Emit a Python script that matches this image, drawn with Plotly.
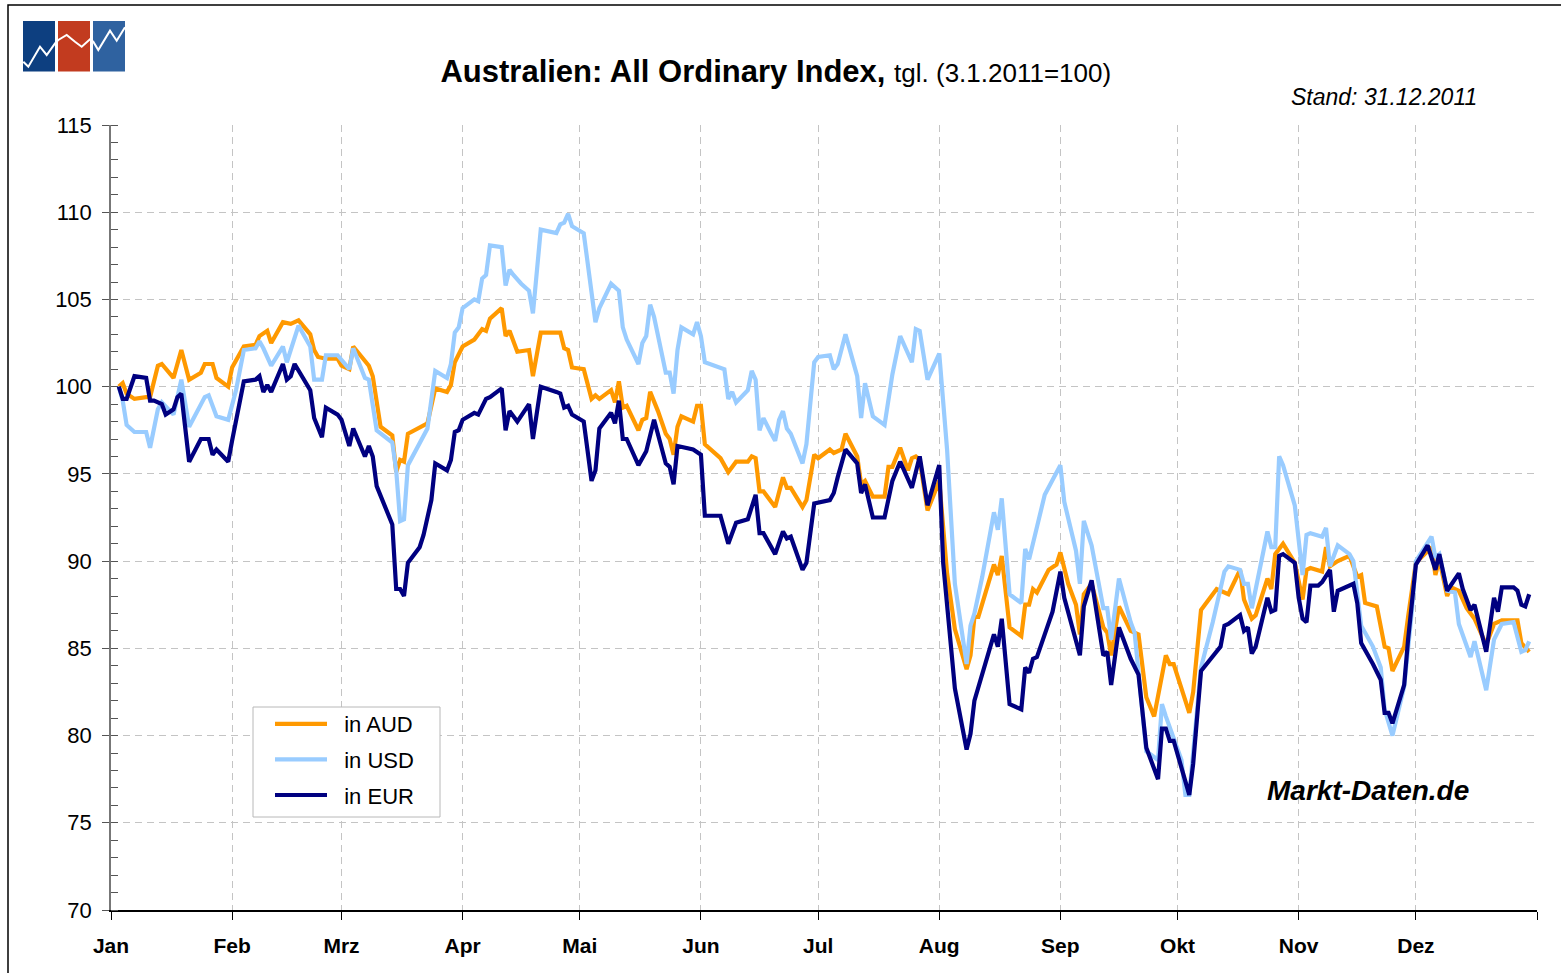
import plotly.graph_objects as go
import pandas as pd

# ---------------- data (day of year 2011, 0 = 1 Jan) ----------------
aud_day = [2, 3, 4, 6, 9, 10, 12, 13, 16, 18, 20, 23, 24, 26, 27, 30, 31, 34, 37, 38, 40, 41, 44, 46, 48, 51, 52, 53, 55, 58,
           59, 61, 62, 66, 67, 69, 72, 73, 74, 75, 76, 79, 81, 83, 86, 87, 88, 90, 93, 95, 96, 97, 100, 101, 102, 104, 107, 108, 110, 115,
           116, 117, 118, 121, 123, 124, 125, 128, 129, 130, 131, 132, 135, 136, 137, 138, 140, 142, 143, 144, 145, 146, 149, 150, 151, 152, 156, 158, 160, 163,
           164, 165, 166, 167, 170, 172, 173, 174, 177, 178, 180, 181, 184, 185, 187, 188, 191, 192, 193, 195, 198, 199, 200, 202, 204, 205, 206, 207, 209, 212,
           214, 216, 219, 220, 221, 222, 226, 227, 228, 230, 233, 234, 235, 236, 237, 240, 242, 243, 245, 247, 248, 249, 251, 254, 255, 256, 258, 261, 263, 265,
           267, 270, 271, 272, 276, 277, 279, 281, 283, 286, 289, 290, 292, 293, 296, 297, 298, 300, 303, 305, 306, 307, 310, 311, 312, 314, 317, 319, 320, 321,
           324, 326, 327, 328, 331, 332, 334, 338, 339, 340, 342, 343, 345, 347, 349, 352, 354, 356, 360, 361, 363]
aud_val = [100.0, 100.2, 99.6, 99.3, 99.4, 99.4, 101.2, 101.3, 100.5, 102.1, 100.4, 100.8, 101.3, 101.3, 100.5, 100.0, 101.1, 102.3, 102.4, 102.9, 103.2, 102.5, 103.7, 103.6, 103.8, 103.0, 102.1, 101.7, 101.6, 101.6,
           101.2, 101.0, 102.3, 101.2, 100.6, 97.7, 97.2, 95.1, 95.8, 95.7, 97.3, 97.7, 97.9, 99.9, 99.7, 100.1, 101.4, 102.3, 102.7, 103.3, 103.2, 103.9, 104.5, 102.9, 103.2, 102.0, 102.1, 100.6, 103.1, 103.1,
           102.2, 102.1, 101.1, 101.0, 99.3, 99.5, 99.3, 99.8, 99.1, 100.3, 98.8, 98.9, 97.5, 98.1, 98.2, 99.7, 98.6, 97.3, 97.0, 96.1, 97.7, 98.3, 98.0, 98.9, 98.9, 96.7, 95.9, 95.1, 95.7, 95.7,
           96.0, 95.9, 94.0, 94.0, 93.1, 94.8, 94.2, 94.2, 93.1, 93.5, 96.1, 95.9, 96.4, 96.2, 96.4, 97.3, 96.0, 94.4, 94.6, 93.7, 93.7, 95.4, 95.4, 96.5, 95.2, 95.9, 96.0, 95.8, 92.9, 94.6,
           89.3, 86.1, 83.8, 84.6, 86.8, 86.8, 89.8, 89.2, 90.3, 86.2, 85.7, 87.5, 87.5, 88.4, 88.2, 89.5, 89.8, 90.5, 88.7, 87.5, 85.8, 88.1, 88.7, 86.2, 85.9, 84.6, 87.4, 86.0, 85.8, 82.2,
           81.1, 84.6, 84.1, 84.1, 81.3, 82.5, 87.2, 87.8, 88.4, 88.1, 89.5, 87.8, 86.7, 86.9, 89.0, 88.4, 90.4, 91.0, 89.9, 87.8, 89.5, 89.6, 89.4, 90.8, 89.7, 90.0, 90.3, 89.1, 89.2, 87.6,
           87.4, 85.1, 85.0, 83.7, 85.1, 86.8, 89.9, 90.8, 89.2, 90.1, 88.0, 88.5, 88.3, 87.3, 86.7, 85.2, 86.4, 86.6, 86.6, 85.3, 84.8]

usd_day = [2, 3, 4, 6, 9, 10, 12, 13, 16, 17, 18, 20, 24, 25, 27, 30, 32, 34, 37, 38, 39, 41, 44, 45, 48, 51, 52, 54, 55, 58,
           60, 61, 62, 65, 66, 68, 72, 73, 74, 75, 76, 81, 83, 86, 87, 88, 89, 90, 93, 94, 95, 96, 97, 100, 101, 102, 103, 105, 107, 108,
           110, 114, 115, 116, 117, 118, 121, 124, 125, 128, 130, 131, 132, 135, 136, 137, 138, 139, 142, 143, 144, 145, 146, 149, 150, 151, 152, 157, 158, 159,
           160, 163, 164, 165, 166, 167, 169, 170, 171, 172, 173, 174, 177, 178, 180, 181, 184, 185, 186, 188, 191, 192, 193, 195, 198, 200, 202, 205, 206, 207,
           209, 212, 214, 216, 219, 220, 221, 223, 226, 227, 228, 230, 233, 234, 235, 239, 243, 244, 247, 248, 249, 251, 254, 255, 256, 258, 261, 262, 265, 268,
           269, 270, 274, 275, 276, 279, 282, 285, 286, 289, 290, 291, 292, 296, 297, 298, 299, 300, 303, 305, 306, 307, 310, 311, 312, 314, 317, 318, 320, 323,
           325, 326, 328, 331, 333, 334, 338, 339, 340, 342, 344, 345, 348, 349, 352, 354, 356, 359, 361, 362, 363]
usd_val = [100.0, 99.2, 97.8, 97.4, 97.4, 96.5, 98.7, 99.1, 98.4, 99.3, 100.4, 97.7, 99.4, 99.5, 98.3, 98.1, 99.8, 102.1, 102.2, 102.6, 102.2, 101.2, 102.3, 101.4, 103.5, 102.3, 100.4, 100.4, 101.8, 101.8,
           101.2, 101.0, 102.2, 100.5, 100.4, 97.5, 96.8, 95.2, 92.3, 92.4, 95.5, 97.6, 100.9, 100.5, 101.3, 103.1, 103.4, 104.5, 105.0, 104.9, 106.2, 106.4, 108.1, 108.0, 105.8, 106.7, 106.4, 105.9, 105.5, 104.2,
           109.0, 108.8, 109.3, 109.4, 109.9, 109.2, 108.8, 103.7, 104.5, 105.9, 105.5, 103.4, 102.7, 101.3, 102.5, 102.9, 104.7, 104.0, 100.8, 100.8, 99.6, 102.1, 103.4, 103.0, 103.7, 102.9, 101.4, 101.0, 99.3, 99.7,
           99.1, 99.8, 100.9, 100.4, 97.5, 98.2, 97.3, 96.9, 98.1, 98.6, 97.6, 97.3, 95.6, 96.7, 101.4, 101.7, 101.8, 101.0, 101.3, 103.0, 100.6, 98.2, 100.2, 98.3, 97.8, 100.7, 102.9, 101.4, 103.3, 103.2,
           100.4, 101.9, 96.4, 88.7, 84.1, 86.3, 87.0, 89.1, 92.8, 91.8, 93.6, 88.1, 87.6, 90.7, 90.1, 93.8, 95.5, 93.4, 90.6, 88.7, 92.3, 90.9, 87.3, 87.3, 85.5, 89.0, 86.5, 85.9, 79.1, 78.6,
           81.8, 81.1, 78.6, 76.6, 76.6, 83.9, 86.5, 89.4, 89.7, 89.5, 88.7, 88.7, 87.3, 91.7, 90.8, 90.8, 96.0, 95.5, 93.2, 89.2, 91.5, 91.6, 91.4, 91.9, 89.7, 90.9, 90.4, 90.0, 86.3, 85.1,
           83.9, 81.5, 80.0, 82.8, 87.2, 90.0, 91.4, 90.2, 90.4, 88.3, 88.2, 86.4, 84.5, 85.4, 82.6, 85.5, 86.4, 86.5, 84.8, 84.9, 85.4]

eur_day = [2, 3, 4, 6, 9, 10, 11, 13, 14, 16, 17, 18, 20, 23, 25, 26, 27, 30, 31, 33, 34, 37, 38, 39, 40, 41, 44, 45, 46, 47,
           51, 52, 53, 54, 55, 58, 59, 61, 62, 65, 66, 67, 68, 72, 73, 74, 75, 76, 79, 80, 82, 83, 86, 87, 88, 89, 90, 93, 94, 96,
           97, 100, 101, 102, 104, 107, 108, 110, 114, 115, 116, 117, 118, 121, 123, 124, 125, 128, 129, 130, 131, 132, 135, 137, 139, 142, 143, 144, 145, 149,
           151, 152, 156, 158, 160, 163, 165, 166, 167, 170, 172, 173, 174, 177, 178, 180, 184, 185, 186, 188, 191, 192, 193, 195, 198, 200, 202, 205, 207, 209,
           212, 213, 216, 219, 220, 221, 226, 227, 228, 230, 233, 234, 235, 236, 237, 241, 243, 244, 248, 249, 251, 254, 255, 256, 258, 261, 263, 265, 268, 269,
           270, 271, 272, 276, 277, 279, 284, 285, 286, 289, 290, 291, 292, 293, 296, 297, 298, 299, 300, 303, 304, 305, 306, 307, 309, 310, 312, 313, 314, 318,
           319, 320, 323, 325, 326, 327, 328, 331, 332, 334, 337, 339, 340, 342, 345, 346, 348, 349, 352, 354, 355, 356, 359, 360, 361, 362, 363]
eur_val = [100.0, 99.3, 99.3, 100.6, 100.5, 99.2, 99.2, 99.0, 98.4, 98.7, 99.4, 99.6, 95.7, 97.0, 97.0, 96.1, 96.4, 95.7, 96.9, 99.3, 100.3, 100.4, 100.6, 99.7, 100.1, 99.7, 101.3, 100.4, 100.6, 101.3,
           99.8, 98.2, 97.6, 97.1, 98.8, 98.4, 98.1, 96.6, 97.6, 96.0, 96.6, 96.0, 94.3, 92.1, 88.4, 88.4, 88.0, 89.9, 90.8, 91.5, 93.5, 95.6, 95.2, 95.8, 97.4, 97.5, 98.1, 98.5, 98.4, 99.3,
           99.4, 99.9, 97.5, 98.6, 98.0, 99.0, 97.0, 100.0, 99.7, 99.6, 98.8, 98.9, 98.4, 98.0, 94.6, 95.2, 97.6, 98.5, 97.9, 99.2, 97.0, 97.0, 95.5, 96.3, 98.1, 95.6, 95.4, 94.4, 96.6, 96.4,
           96.1, 92.6, 92.6, 91.0, 92.2, 92.4, 93.8, 91.6, 91.6, 90.4, 91.7, 91.3, 91.4, 89.5, 89.9, 93.3, 93.5, 93.9, 94.8, 96.4, 95.6, 93.9, 94.4, 92.5, 92.5, 94.6, 95.7, 94.2, 96.0, 93.2,
           95.5, 89.9, 82.7, 79.2, 80.1, 82.0, 85.8, 85.1, 86.7, 81.8, 81.5, 83.9, 83.6, 84.4, 84.5, 87.1, 89.4, 87.9, 84.6, 87.4, 88.9, 84.6, 84.8, 82.9, 86.2, 84.4, 83.5, 79.3, 77.5, 80.4,
           80.4, 79.7, 79.7, 76.6, 78.4, 83.7, 85.1, 86.3, 86.4, 86.9, 86.0, 86.2, 84.7, 85.1, 87.9, 87.1, 87.2, 90.3, 90.4, 89.9, 87.9, 86.7, 86.5, 88.6, 88.6, 88.8, 89.5, 87.1, 88.3, 88.7,
           87.6, 85.3, 84.1, 83.2, 81.3, 81.3, 80.7, 82.9, 85.5, 89.8, 90.9, 89.5, 90.4, 88.3, 89.3, 88.4, 87.2, 87.5, 84.8, 87.9, 87.1, 88.5, 88.5, 88.3, 87.5, 87.4, 88.1]

series_names = ["in AUD", "in USD", "in EUR"]
series_colors = ["#FF9900", "#99CCFF", "#000080"]

month_starts = ["2011-01-01", "2011-02-01", "2011-03-01", "2011-04-01", "2011-05-01", "2011-06-01", "2011-07-01",
                "2011-08-01", "2011-09-01", "2011-10-01", "2011-11-01", "2011-12-01", "2012-01-01"]
month_labels = ["Jan", "Feb", "Mrz", "Apr", "Mai", "Jun", "Jul", "Aug", "Sep", "Okt", "Nov", "Dez", ""]

# ---------------- figure ----------------
W, H = 1561, 973
ML, MR, MT, MB = 111, 24, 125, 63
FONT = "Liberation Sans, Arial, sans-serif"
NBSP = "\u00a0"


def px(x):
    return (x - ML) / (W - ML - MR)


def py(y):
    return (H - MB - y) / (H - MT - MB)


base = pd.Timestamp("2011-01-01")
fig = go.Figure()
for name, color, days, vals in zip(series_names, series_colors,
                                   [aud_day, usd_day, eur_day], [aud_val, usd_val, eur_val]):
    dates = base + pd.to_timedelta(days, unit="D")
    fig.add_trace(go.Scatter(x=dates, y=vals, mode="lines", name=NBSP * 2 + name, legendgroup=name,
                             line=dict(color=color, width=4.2)))

grid = dict(showgrid=True, gridcolor="#c4c4c4", gridwidth=1, griddash="7px,5px")

fig.update_xaxes(type="date", range=["2011-01-01", "2012-01-01"],
                 tickvals=month_starts, ticktext=month_labels,
                 ticks="outside", ticklen=8, tickcolor="#000000", tickwidth=1,
                 showline=True, linecolor="#000000", linewidth=1.5,
                 tickfont=dict(family=FONT, size=21, color="#000000", weight="bold"),
                 ticklabelstandoff=8, zeroline=False, **grid)
fig.update_yaxes(range=[70, 115], tickvals=[70, 75, 80, 85, 90, 95, 100, 105, 110, 115],
                 ticks="outside", ticklen=7, tickcolor="#555555", tickwidth=1,
                 minor=dict(ticks="inside", ticklen=7, dtick=1, tickcolor="#555555", tickwidth=1, showgrid=False),
                 showline=True, linecolor="#777777", linewidth=1.5,
                 tickfont=dict(family=FONT, size=22, color="#000000"),
                 ticklabelstandoff=6, zeroline=False, **grid)

shapes = [
    # outer frame
    dict(type="rect", xref="paper", yref="paper", x0=px(8), y0=py(5), x1=px(1570), y1=py(985),
         line=dict(color="#000000", width=1.5), fillcolor="rgba(0,0,0,0)", layer="above"),
    # legend frame
    dict(type="rect", xref="paper", yref="paper", x0=px(253), y0=py(707), x1=px(440), y1=py(817),
         line=dict(color="#b8b8b8", width=1), fillcolor="#ffffff", layer="above"),
    # logo
    dict(type="rect", xref="paper", yref="paper", x0=px(23), y0=py(21), x1=px(55), y1=py(71.5),
         line=dict(width=0), fillcolor="#0d3f80"),
    dict(type="rect", xref="paper", yref="paper", x0=px(58), y0=py(21), x1=px(90), y1=py(71.5),
         line=dict(width=0), fillcolor="#c23b1f"),
    dict(type="rect", xref="paper", yref="paper", x0=px(93), y0=py(21), x1=px(125), y1=py(71.5),
         line=dict(width=0), fillcolor="#2f62a0"),
]
logo_pts = [(23.3, 61.7), (28.3, 66.7), (40, 46.7), (46.7, 55), (55, 43.3), (58.3, 40), (66.7, 35), (75, 41.7),
            (81.7, 46.7), (90, 39.3), (93.3, 41.7), (98.3, 50), (110, 30.7), (116.7, 40.7), (125, 27.3)]
path = "M " + " L ".join(f"{px(x):.5f},{py(y):.5f}" for x, y in logo_pts)
shapes.append(dict(type="path", xref="paper", yref="paper", path=path, line=dict(color="#ffffff", width=2)))

annotations = [
    dict(text="<i>Stand: 31.12.2011</i>", xref="paper", yref="paper", x=px(1479), y=py(97),
         xanchor="right", yanchor="middle", showarrow=False,
         font=dict(family=FONT, size=23, color="#000000")),
    dict(text="<b><i>Markt-Daten.de</i></b>", xref="paper", yref="paper", x=px(1368), y=py(790),
         xanchor="center", yanchor="middle", showarrow=False,
         font=dict(family=FONT, size=28, color="#000000")),
]

fig.update_layout(
    width=W, height=H,
    margin=dict(l=ML, r=MR, t=MT, b=MB, pad=0),
    paper_bgcolor="#ffffff", plot_bgcolor="#ffffff",
    font=dict(family=FONT, color="#000000"),
    title=dict(text="<b>Australien: All Ordinary Index,</b> <span style='font-size:26px'>tgl. (3.1.2011=100)</span>",
               x=0.497, xref="container", xanchor="center", y=1 - 71 / H, yanchor="middle",
               font=dict(family=FONT, size=31, color="#000000")),
    legend=dict(x=px(270), y=py(703), xanchor="left", yanchor="top",
                bgcolor="rgba(0,0,0,0)", borderwidth=0,
                font=dict(family=FONT, size=22, color="#000000"),
                traceorder="grouped", tracegroupgap=4, itemwidth=52),
    shapes=shapes,
    annotations=annotations,
)

fig.write_html("out.html", config={"displayModeBar": False},
               post_script="document.body.style.margin='0';")
